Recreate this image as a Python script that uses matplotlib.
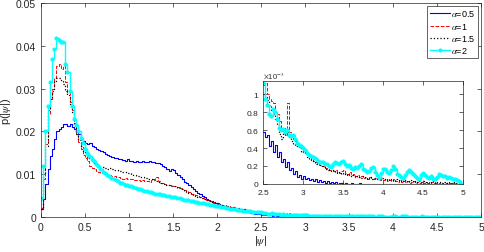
import numpy as np
import matplotlib
matplotlib.use('Agg')
import matplotlib.pyplot as plt
from matplotlib.ticker import FuncFormatter

plt.rcParams['font.family'] = ['Liberation Sans', 'DejaVu Sans']
plt.rcParams['mathtext.fontset'] = 'stix'

# histogram bins of |psi|, width 0.025 from 0 to 5
bin_w = 0.025
edges = np.arange(0, 5 + bin_w / 2, bin_w)

# p(|psi|) in units of 1e-3, one row = 10 bins (0.25 in |psi|)
p_a05 = [
    1.8, 4.2, 7.7, 11.2, 14.3, 15.9, 18.2, 20.2, 20.6, 21.0,
    21.7, 21.7, 21.3, 21.7, 21.0, 20.6, 19.8, 19.4, 18.2, 17.8,
    17.4, 17.0, 17.2, 16.5, 16.4, 15.9, 15.6, 15.5, 15.1, 14.8,
    14.6, 14.2, 14.0, 13.8, 13.7, 13.5, 13.6, 13.4, 13.2, 13.6,
    13.2, 13.0, 12.9, 13.1, 12.8, 12.9, 13.2, 12.9, 12.9, 13.1,
    12.8, 12.9, 12.6, 12.7, 12.3, 12.0, 11.6, 11.2, 10.8, 11.3,
    11.0, 10.4, 9.8, 9.3, 8.8, 8.3, 7.9, 7.5, 7.0, 6.5,
    6.1, 5.7, 5.3, 4.9, 4.6, 4.3, 4.0, 3.7, 3.4, 3.2,
    3.0, 2.8, 2.6, 2.4, 2.3, 2.1, 2.0, 1.9, 1.8, 1.65,
    1.55, 1.45, 1.3, 1.2, 1.1, 1.0, 0.9, 0.8, 0.7, 0.65,
    0.58, 0.52, 0.55, 0.42, 0.48, 0.36, 0.43, 0.30, 0.36, 0.24,
    0.28, 0.19, 0.25, 0.15, 0.18, 0.11, 0.14, 0.08, 0.10, 0.06,
    0.09, 0.05, 0.07, 0.04, 0.06, 0.03, 0.05, 0.02, 0.04, 0.02,
    0.03, 0.01, 0.03, 0.01, 0.02, 0.01, 0.02, 0.0, 0.01, 0.01,
    0.0, 0.01, 0.0, 0.0, 0.01, 0.0, 0.0, 0.0, 0.01, 0.0,
    0.0, 0.0, 0.0, 0.0, 0.0, 0.0, 0.0, 0.0, 0.0, 0.0,
    0.0, 0.0, 0.0, 0.0, 0.0, 0.0, 0.0, 0.0, 0.0, 0.0,
    0.0, 0.0, 0.0, 0.0, 0.0, 0.0, 0.0, 0.0, 0.0, 0.0,
    0.0, 0.0, 0.0, 0.0, 0.0, 0.0, 0.0, 0.0, 0.0, 0.0,
    0.0, 0.0, 0.0, 0.0, 0.0, 0.0, 0.0, 0.0, 0.0, 0.0,
]

p_a1 = [
    2.2, 9.0, 17.0, 24.0, 27.5, 30.0, 32.5, 35.3, 35.7, 34.5,
    35.3, 31.5, 29.3, 27.0, 25.0, 22.0, 19.5, 17.5, 16.0, 14.5,
    13.9, 13.0, 12.0, 11.5, 11.2, 10.8, 10.5, 10.3, 10.2, 10.0,
    9.8, 9.9, 9.5, 9.6, 9.3, 9.4, 9.2, 9.0, 9.1, 8.9,
    8.8, 8.9, 8.7, 8.6, 8.7, 8.5, 8.6, 8.4, 8.5, 8.3,
    8.6, 8.9, 9.4, 8.4, 8.0, 7.9, 7.8, 7.6, 7.6, 7.5,
    7.3, 7.2, 7.0, 6.8, 6.5, 6.3, 6.0, 5.8, 5.5, 5.4,
    5.1, 4.9, 4.8, 4.5, 4.3, 4.1, 3.9, 3.7, 3.5, 3.3,
    3.2, 3.0, 2.9, 2.8, 2.6, 2.5, 2.4, 2.3, 2.2, 2.1,
    2.0, 1.9, 1.8, 1.7, 1.6, 1.5, 1.4, 1.35, 1.25, 1.15,
    1.10, 1.12, 1.0, 0.95, 0.92, 0.90, 0.80, 0.78, 0.70, 0.60,
    0.62, 0.55, 0.90, 0.58, 0.55, 0.50, 0.48, 0.45, 0.42, 0.40,
    0.38, 0.35, 0.33, 0.30, 0.28, 0.26, 0.25, 0.23, 0.21, 0.20,
    0.20, 0.18, 0.17, 0.15, 0.16, 0.14, 0.15, 0.13, 0.12, 0.14,
    0.15, 0.12, 0.11, 0.13, 0.10, 0.11, 0.09, 0.10, 0.08, 0.09,
    0.07, 0.08, 0.06, 0.08, 0.06, 0.05, 0.07, 0.05, 0.04, 0.06,
    0.04, 0.05, 0.03, 0.04, 0.03, 0.05, 0.03, 0.02, 0.04, 0.02,
    0.03, 0.02, 0.03, 0.01, 0.02, 0.03, 0.01, 0.02, 0.01, 0.02,
    0.01, 0.02, 0.01, 0.01, 0.02, 0.01, 0.01, 0.0, 0.01, 0.01,
    0.0, 0.01, 0.0, 0.01, 0.0, 0.01, 0.0, 0.0, 0.01, 0.0,
]

p_a15 = [
    1.9, 10.4, 16.7, 25.0, 27.5, 29.5, 31.5, 32.6, 32.6, 31.8,
    31.0, 29.5, 28.5, 26.5, 24.5, 21.5, 19.5, 18.0, 16.7, 15.5,
    14.7, 14.0, 13.5, 13.0, 12.6, 12.3, 12.0, 11.8, 11.6, 11.5,
    11.3, 11.4, 11.2, 11.0, 10.9, 10.8, 10.7, 10.5, 10.5, 10.4,
    10.2, 10.0, 9.9, 9.7, 9.6, 9.4, 9.3, 9.2, 9.0, 8.9,
    8.8, 8.6, 8.4, 8.2, 8.0, 7.9, 7.7, 7.6, 7.4, 7.3,
    7.2, 7.0, 6.8, 6.6, 6.4, 6.1, 5.9, 5.6, 5.4, 5.2,
    5.0, 4.8, 4.6, 4.4, 4.2, 4.0, 3.8, 3.6, 3.5, 3.3,
    3.2, 3.0, 2.9, 2.7, 2.6, 2.5, 2.4, 2.3, 2.2, 2.1,
    2.0, 1.9, 1.8, 1.7, 1.6, 1.5, 1.4, 1.3, 1.2, 1.1,
    1.0, 0.97, 0.93, 0.88, 0.82, 0.78, 0.72, 0.66, 0.56, 0.50,
    0.60, 0.55, 0.58, 0.52, 0.48, 0.45, 0.42, 0.44, 0.40, 0.36,
    0.40, 0.34, 0.30, 0.28, 0.27, 0.24, 0.22, 0.23, 0.21, 0.20,
    0.19, 0.17, 0.16, 0.15, 0.14, 0.15, 0.13, 0.12, 0.13, 0.11,
    0.12, 0.10, 0.11, 0.10, 0.09, 0.10, 0.08, 0.09, 0.08, 0.07,
    0.09, 0.07, 0.06, 0.08, 0.06, 0.07, 0.05, 0.06, 0.05, 0.07,
    0.05, 0.04, 0.06, 0.04, 0.05, 0.03, 0.05, 0.04, 0.03, 0.04,
    0.03, 0.04, 0.02, 0.03, 0.04, 0.02, 0.03, 0.02, 0.03, 0.02,
    0.03, 0.02, 0.02, 0.01, 0.03, 0.02, 0.01, 0.02, 0.02, 0.01,
    0.02, 0.01, 0.02, 0.01, 0.01, 0.02, 0.01, 0.01, 0.01, 0.0,
]

p_a2 = [
    4.4, 12.0, 20.0, 26.0, 31.6, 36.9, 39.3, 41.8, 41.3, 41.0,
    40.8, 35.7, 33.8, 29.5, 26.0, 23.0, 21.5, 20.0, 18.5, 17.2,
    16.0, 15.0, 14.3, 13.6, 13.0, 12.4, 11.9, 11.3, 10.6, 10.2,
    9.8, 9.5, 9.2, 8.9, 8.6, 8.4, 8.0, 7.9, 7.6, 7.5,
    7.3, 7.2, 7.0, 6.8, 6.6, 6.5, 6.4, 6.2, 6.1, 5.9,
    5.8, 5.7, 5.5, 5.4, 5.3, 5.2, 5.1, 5.0, 4.9, 4.8,
    4.8, 4.6, 4.5, 4.4, 4.2, 4.1, 4.0, 3.9, 3.8, 3.7,
    3.6, 3.5, 3.4, 3.3, 3.2, 3.1, 3.0, 2.9, 2.8, 2.7,
    2.6, 2.5, 2.4, 2.3, 2.2, 2.1, 2.0, 1.95, 1.85, 1.75,
    1.65, 1.55, 1.5, 1.45, 1.4, 1.35, 1.3, 1.25, 1.2, 1.15,
    1.12, 0.95, 0.88, 0.78, 0.76, 0.84, 0.80, 0.72, 0.62, 0.60,
    0.61, 0.58, 0.60, 0.55, 0.53, 0.55, 0.50, 0.46, 0.43, 0.42,
    0.40, 0.38, 0.35, 0.32, 0.31, 0.30, 0.29, 0.27, 0.25, 0.24,
    0.24, 0.22, 0.22, 0.20, 0.19, 0.22, 0.24, 0.23, 0.22, 0.25,
    0.26, 0.22, 0.20, 0.21, 0.18, 0.17, 0.19, 0.18, 0.20, 0.22,
    0.17, 0.15, 0.13, 0.14, 0.18, 0.19, 0.13, 0.10, 0.07, 0.12,
    0.17, 0.17, 0.13, 0.12, 0.15, 0.20, 0.17, 0.11, 0.10, 0.08,
    0.07, 0.10, 0.13, 0.15, 0.13, 0.11, 0.09, 0.07, 0.06, 0.10,
    0.12, 0.10, 0.08, 0.07, 0.09, 0.06, 0.06, 0.08, 0.11, 0.10,
    0.09, 0.09, 0.07, 0.08, 0.07, 0.06, 0.05, 0.04, 0.03, 0.0,
]

labels = [r'$\alpha$=0.5', r'$\alpha$=1', r'$\alpha$=1.5', r'$\alpha$=2']
series = [p_a05, p_a1, p_a15, p_a2]
styles = [
    dict(color='#0000ff', ls='-', lw=0.8),
    dict(color='#ff0000', ls='--', lw=0.7),
    dict(color='#000000', ls=':', lw=0.9),
    dict(color='#00ffff', ls='-', lw=1.0, marker='o', ms=2.0, mec='#00ffff'),
]

fmt_g = FuncFormatter(lambda v, pos: '%g' % round(v, 6))


def style_axes(ax, size):
    ax.tick_params(direction='in', which='both', top=True, right=True,
                   labelsize=size, colors='#262626', length=3, width=0.5)
    for s in ax.spines.values():
        s.set_color('#262626')
        s.set_linewidth(0.5)


fig = plt.figure(figsize=(4.85, 2.53), dpi=100)
ax = fig.add_axes([0.0845, 0.138, 0.9075, 0.846])

for vals, lab, st in zip(series, labels, styles):
    y = np.array(vals) * 1e-3
    ax.plot(edges, np.append(y, y[-1]), drawstyle='steps-post', label=lab, **st)

ax.set_xlim(0, 5)
ax.set_ylim(0, 0.05)
ax.set_xticks(np.arange(0, 5.01, 0.5))
ax.set_yticks(np.arange(0, 0.0501, 0.01))
ax.xaxis.set_major_formatter(fmt_g)
ax.yaxis.set_major_formatter(fmt_g)
style_axes(ax, 7.5)
ax.set_xlabel(r'|$\psi$|', fontsize=8, labelpad=1, color='#262626')
ax.set_ylabel(r'p(|$\psi$|)', fontsize=8, labelpad=2, color='#262626')

leg = ax.legend(loc='upper right', fontsize=6.5, handlelength=2.2,
                borderaxespad=0.3, fancybox=False, framealpha=1,
                borderpad=0.3, labelspacing=0.25, handletextpad=0.2)
leg.get_frame().set_edgecolor('#262626')
leg.get_frame().set_linewidth(0.5)

# inset with the tail
axin = fig.add_axes([0.543, 0.269, 0.411, 0.408])
start = 100
for vals, st in zip(series, styles):
    y = np.array(vals[start:]) * 1e-3
    axin.plot(edges[start:], np.append(y, y[-1]), drawstyle='steps-post', **st)
axin.set_xlim(2.5, 5)
axin.set_ylim(0, 1.15e-3)
axin.set_xticks(np.arange(2.5, 5.01, 0.5))
axin.set_yticks(np.arange(0, 1.01e-3, 0.2e-3))
axin.xaxis.set_major_formatter(fmt_g)
axin.yaxis.set_major_formatter(FuncFormatter(lambda v, pos: '%g' % round(v * 1e3, 6)))
style_axes(axin, 6)
axin.text(0.0, 1.01, r'$\times$10$^{-3}$', transform=axin.transAxes,
          fontsize=5.5, color='#262626', va='bottom', ha='left')

fig.savefig('out.png', dpi=100)
